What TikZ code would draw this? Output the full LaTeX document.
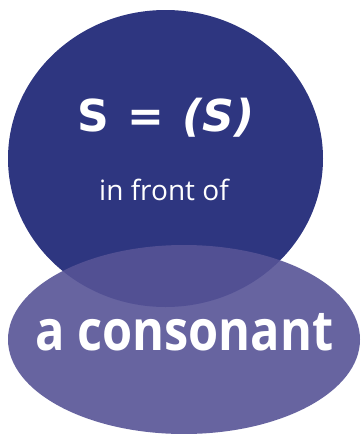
\documentclass[tikz,border=0pt]{standalone}
\usepackage{fontspec}
\setmainfont{Open Sans}
\newfontfamily\titlefont{DejaVu Sans}
\newfontfamily\narrowfont[FakeStretch=0.87]{Open Sans}
\definecolor{ringblue}{HTML}{2E3680}
\definecolor{lowpurple}{HTML}{565396}
\tikzset{
  label text/.style={text=white, inner sep=0pt, anchor=base},
}
\begin{document}
\begin{tikzpicture}[x=1pt,y=-1pt]
                \useasboundingbox (0,0) rectangle (360,434);
                \fill[ringblue] (165.5,158.5) ellipse (157.5 and 148.5);
                \fill[lowpurple, fill opacity=0.9] (184,339.5) ellipse (176 and 94.5);

                \draw node[label text] (rule) at (166,131) {\titlefont\fontsize{44}{44}\selectfont\bfseries S\hspace{18pt}=\hspace{18pt}\itshape(S)};
                \draw node[label text] (where) at (164,200) {\fontsize{28}{28}\selectfont in front of};
                \draw node[label text] (what) at (184.5,350) {\narrowfont\fontsize{56}{56}\selectfont\bfseries a consonant};
            \end{tikzpicture}
\end{document}
